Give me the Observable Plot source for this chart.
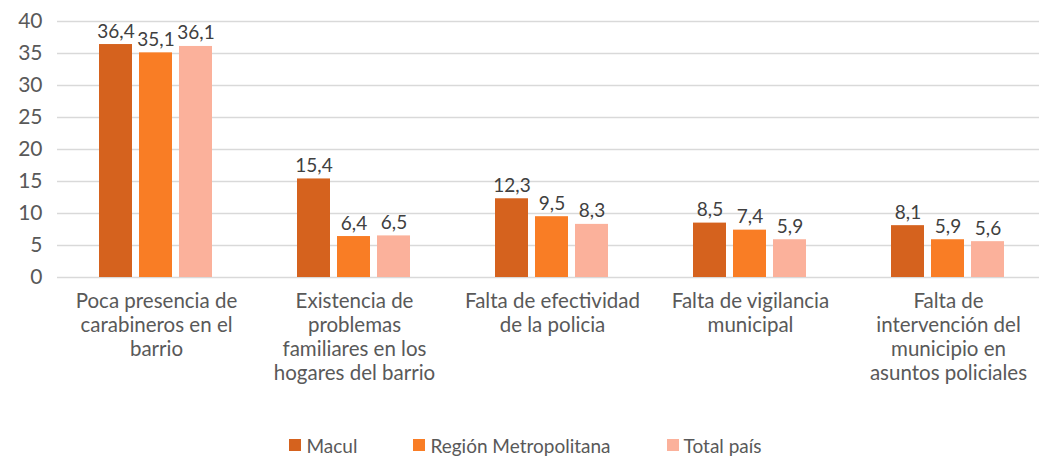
<!DOCTYPE html>
<html>
<head>
<meta charset="utf-8">
<script src="https://cdn.jsdelivr.net/npm/d3@7"></script>
<script src="https://cdn.jsdelivr.net/npm/@observablehq/plot@0.6"></script>
<style>
  body { margin: 0; background: #fff; font-family: Lato, "Open Sans", sans-serif; }
  #legend { display: flex; justify-content: center; align-items: center; height: 46px; font-size: 19px; color: #595959; padding-left: 12px; }
  #legend .item { display: flex; align-items: center; margin: 0 28px; }
  #legend .sw { width: 12px; height: 12px; margin-right: 5px; }
</style>
</head>
<body>
<div id="chart"></div>
<div id="legend"></div>
<script>
const categories = [
  "Poca presencia de\ncarabineros en el\nbarrio",
  "Existencia de\nproblemas\nfamiliares en los\nhogares del barrio",
  "Falta de efectividad\nde la policia",
  "Falta de vigilancia\nmunicipal",
  "Falta de\nintervención del\nmunicipio en\nasuntos policiales"
];
const series = ["Macul", "Región Metropolitana", "Total país"];
const macul = [36.4, 15.4, 12.3, 8.5, 8.1];
const region = [35.1, 6.4, 9.5, 7.4, 5.9];
const total = [36.1, 6.5, 8.3, 5.9, 5.6];
const colors = ["#D5621E", "#F97D25", "#FBB19B"];
const yTicks = [0, 5, 10, 15, 20, 25, 30, 35, 40];

const values = [macul, region, total];
const data = [];
categories.forEach((c, i) => series.forEach((s, j) => data.push({cat: c, series: s, value: values[j][i]})));

const fmt = v => String(v).replace(".", ",");

const chart = Plot.plot({
  width: 1039,
  height: 422,
  marginLeft: 57,
  marginRight: 0,
  marginTop: 21,
  marginBottom: 145,
  style: {fontFamily: "Lato, 'Open Sans', sans-serif", fontSize: "18px", background: "#fff"},
  fx: {domain: categories, range: [57, 1047], padding: 0, axis: null, label: null},
  x: {domain: series, paddingInner: 0.17, paddingOuter: 1.02, axis: null},
  y: {domain: [0, 40], axis: null},
  color: {domain: series, range: colors},
  marks: [
    Plot.gridY(yTicks, {stroke: "#d9d9d9", strokeOpacity: 1, strokeWidth: 1.5}),
    Plot.barY(data, {fx: "cat", x: "series", y: "value", fill: "series"}),
    Plot.text(data, {fx: "cat", x: "series", y: "value", text: d => fmt(d.value), dy: -7, lineAnchor: "bottom", fill: "#404040", fontSize: 19}),
    Plot.text(categories, {fx: d => d, text: d => d, frameAnchor: "bottom", dy: 14, lineAnchor: "top", lineHeight: 1.16, fill: "#595959", fontSize: 20.5})
  ]
});

const yAxisPlot = Plot.plot({
  width: 57,
  height: 422,
  marginLeft: 0,
  marginRight: 0,
  marginTop: 21,
  marginBottom: 145,
  style: {fontFamily: "Lato, 'Open Sans', sans-serif", fontSize: "18px", background: "transparent", position: "absolute", left: "0px", top: "0px", overflow: "visible"},
  y: {domain: [0, 40], axis: null},
  marks: [
    Plot.text(yTicks, {y: d => d, text: d => String(d), frameAnchor: "right", dx: -15, textAnchor: "end", fill: "#595959", fontSize: 21})
  ]
});

const wrap = document.getElementById("chart");
wrap.style.position = "relative";
wrap.appendChild(chart);
wrap.appendChild(yAxisPlot);

const legend = document.getElementById("legend");
series.forEach((s, i) => {
  const it = document.createElement("div");
  it.className = "item";
  const sw = document.createElement("div");
  sw.className = "sw";
  sw.style.background = colors[i];
  const t = document.createElement("span");
  t.textContent = s;
  it.appendChild(sw); it.appendChild(t);
  legend.appendChild(it);
});
</script>
</body>
</html>
